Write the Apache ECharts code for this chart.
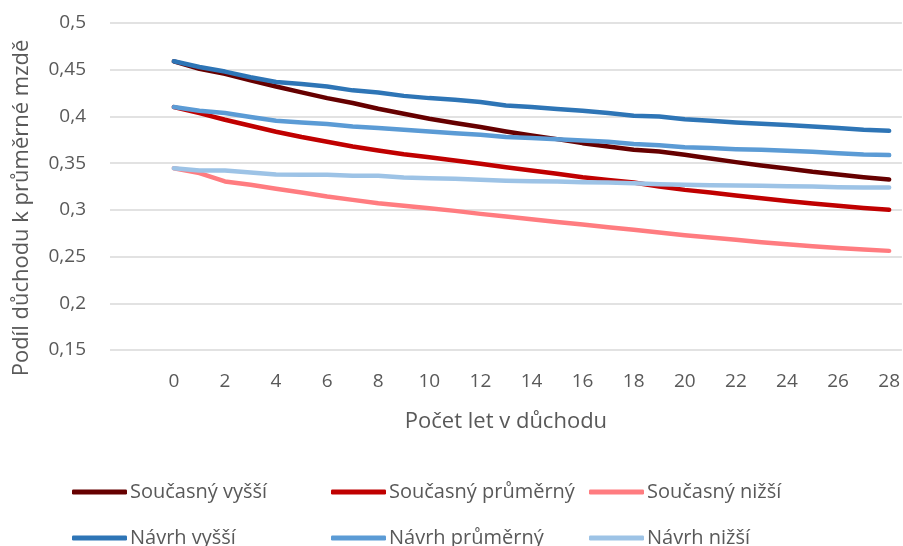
<!DOCTYPE html>
<html>
<head>
<meta charset="utf-8">
<script src="https://cdn.jsdelivr.net/npm/echarts@6/dist/echarts.min.js"></script>
<style>
  html, body { margin: 0; padding: 0; background: #fff; }
  #chart { width: 903px; height: 546px; }
</style>
</head>
<body>
<div id="chart"></div>
<script>
// roky v důchodu 0..28
const years = [0, 1, 2, 3, 4, 5, 6, 7, 8, 9, 10, 11, 12, 13, 14, 15, 16, 17, 18, 19, 20, 21, 22, 23, 24, 25, 26, 27, 28];
// Excel měl vlevo dvě prázdné kategorie
const leadBlank = ['', ''];

const soucasnyVyssi = [0.459, 0.451, 0.4457, 0.4386, 0.432, 0.4257, 0.4196, 0.4143, 0.4082, 0.4029,
  0.3975, 0.3929, 0.3886, 0.3839, 0.3796, 0.3757, 0.3714, 0.3679, 0.3643, 0.3625,
  0.3589, 0.355, 0.3511, 0.3475, 0.3443, 0.3407, 0.3379, 0.335, 0.3325];
const soucasnyPrumerny = [0.41, 0.4036, 0.3964, 0.39, 0.3836, 0.3779, 0.3729, 0.3679, 0.3636, 0.3596,
  0.3564, 0.3529, 0.3493, 0.3457, 0.3421, 0.3386, 0.335, 0.3321, 0.3293, 0.325,
  0.3214, 0.3186, 0.3154, 0.3125, 0.3096, 0.3068, 0.3043, 0.3021, 0.30];
const soucasnyNizsi = [0.3446, 0.3393, 0.3304, 0.3268, 0.3225, 0.3186, 0.3143, 0.3107, 0.3071, 0.3043,
  0.3018, 0.2989, 0.2957, 0.2929, 0.29, 0.2871, 0.2843, 0.2814, 0.2786, 0.2757,
  0.2729, 0.2704, 0.2679, 0.2654, 0.2632, 0.2611, 0.2593, 0.2575, 0.2561];
const navrhVyssi = [0.459, 0.4529, 0.448, 0.442, 0.4368, 0.4346, 0.432, 0.4279, 0.4257, 0.422,
  0.4196, 0.4179, 0.4154, 0.4118, 0.41, 0.4079, 0.4061, 0.4036, 0.4007, 0.40,
  0.3971, 0.3954, 0.3936, 0.3921, 0.3907, 0.3893, 0.3875, 0.3857, 0.3846];
const navrhPrumerny = [0.41, 0.406, 0.4036, 0.3993, 0.3954, 0.3936, 0.392, 0.3893, 0.3875, 0.3857,
  0.3839, 0.3821, 0.3804, 0.3779, 0.3768, 0.3757, 0.3743, 0.3729, 0.3704, 0.3691,
  0.3671, 0.3661, 0.365, 0.3643, 0.3632, 0.3621, 0.3607, 0.3593, 0.3586];
const navrhNizsi = [0.3446, 0.3421, 0.3421, 0.34, 0.3379, 0.3375, 0.3375, 0.3364, 0.3364, 0.3346,
  0.3339, 0.3332, 0.3321, 0.3311, 0.3307, 0.3304, 0.3296, 0.3293, 0.3286, 0.3275,
  0.3268, 0.3264, 0.3261, 0.3257, 0.3254, 0.325, 0.3243, 0.3239, 0.3239];

const seriesDefs = [
  { name: 'Současný vyšší', data: soucasnyVyssi, color: '#660000' },
  { name: 'Současný průměrný', data: soucasnyPrumerny, color: '#C00000' },
  { name: 'Současný nižší', data: soucasnyNizsi, color: '#FF7C80' },
  { name: 'Návrh vyšší', data: navrhVyssi, color: '#2E75B6' },
  { name: 'Návrh průměrný', data: navrhPrumerny, color: '#5B9BD5' },
  { name: 'Návrh nižší', data: navrhNizsi, color: '#9DC3E6' }
];

const font = '"Open Sans", "Liberation Sans", sans-serif';
const textColor = '#595959';

function legendCol(left, names) {
  return {
    orient: 'vertical',
    left: left,
    top: 482,
    height: 120,
    padding: 0,
    icon: 'roundRect',
    itemWidth: 55,
    itemHeight: 5,
    itemGap: 26,
    data: names,
    textStyle: { fontFamily: font, fontSize: 20, color: textColor, padding: [0, 0, 0, -2] }
  };
}

const option = {
  animation: false,
  backgroundColor: '#fff',
  grid: { left: 110, right: 0, top: 23, bottom: 196 },
  legend: [
    legendCol(72, ['Současný vyšší', 'Návrh vyšší']),
    legendCol(331, ['Současný průměrný', 'Návrh průměrný']),
    legendCol(589, ['Současný nižší', 'Návrh nižší'])
  ],
  graphic: [{
    type: 'text',
    x: 22,
    y: 208,
    rotation: Math.PI / 2,
    style: {
      text: 'Podíl důchodu k průměrné mzdě',
      fontFamily: font,
      fontSize: 22,
      fill: textColor,
      align: 'center',
      verticalAlign: 'middle'
    }
  }],
  xAxis: {
    type: 'category',
    boundaryGap: true,
    data: leadBlank.concat(years.map(String)),
    name: 'Počet let v důchodu',
    nameLocation: 'middle',
    nameGap: 61,
    nameTextStyle: { fontFamily: font, fontSize: 22, color: textColor },
    axisLine: { show: false },
    axisTick: { show: false },
    axisLabel: { interval: 1, margin: 22, fontFamily: font, fontSize: 19, color: textColor }
  },
  yAxis: {
    type: 'value',
    min: 0.15,
    max: 0.5,
    interval: 0.05,
    axisLine: { show: false },
    axisTick: { show: false },
    splitLine: { lineStyle: { color: '#D9D9D9', width: 1.5 } },
    axisLabel: {
      margin: 24,
      fontFamily: font,
      fontSize: 19,
      color: textColor,
      formatter: v => String(+v.toFixed(2)).replace('.', ',')
    }
  },
  series: seriesDefs.map(s => ({
    name: s.name,
    type: 'line',
    data: [null, null].concat(s.data),
    symbol: 'none',
    color: s.color,
    lineStyle: { width: 4.5, color: s.color, cap: 'round', join: 'round' },
    z: 2
  }))
};

const myChart = echarts.init(document.getElementById('chart'));
myChart.setOption(option);
</script>
</body>
</html>
